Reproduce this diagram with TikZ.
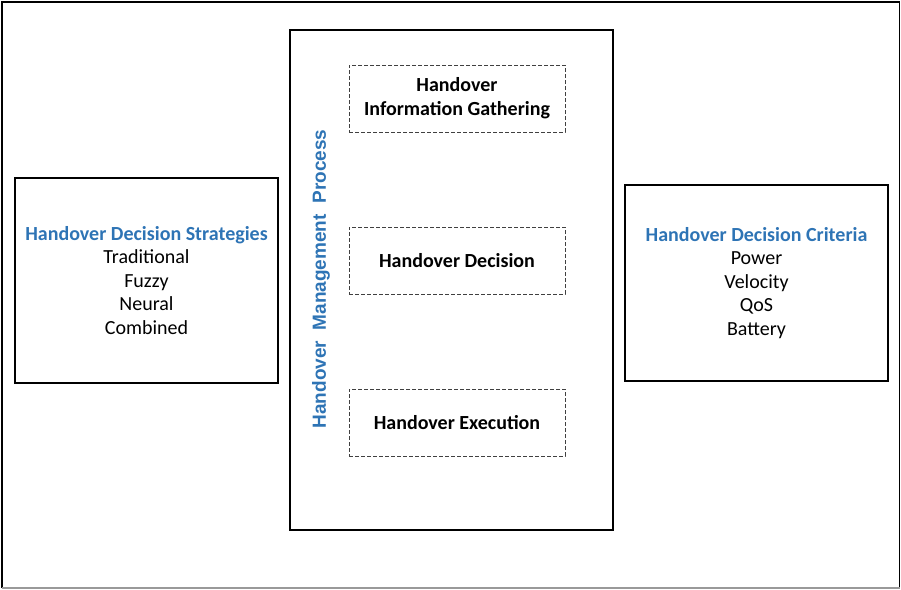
\documentclass[tikz,border=0pt]{standalone}
\usepackage{fontspec}
\setmainfont{Carlito}
\newfontfamily\sidefont{Liberation Sans}
\definecolor{titleblue}{RGB}{46,116,181}

\begin{document}
\begin{tikzpicture}[x=1pt,y=-1pt,
    bigbox/.style={draw,line width=2.5pt,inner sep=0pt},
    stagebox/.style={draw=black!75,line width=0.9pt,dash pattern=on 4pt off 2pt,
      minimum width=216pt,minimum height=67pt,align=center,
      font=\fontsize{20}{24}\selectfont\bfseries},
    listtext/.style={align=center,font=\fontsize{20}{23.5}\selectfont}]
    \useasboundingbox (0,0) rectangle (901,589);
    % outer frame
    \draw[line width=2pt] (2,588) -- (2,1.5) -- (900,1.5);
    \draw[line width=1.5pt] (899.5,1.5) -- (899.5,588);
    \draw[line width=1.2pt,black!40] (2,588) -- (900,588);
    % side boxes
    \node[bigbox,minimum width=263pt,minimum height=205pt,listtext] (strat) at (146.5,280.5)
      {{\bfseries\color{titleblue}Handover Decision Strategies}\\Traditional\\Fuzzy\\Neural\\Combined};
    \node[bigbox,minimum width=263pt,minimum height=196pt,listtext] (crit) at (756.5,283)
      {{\bfseries\color{titleblue}Handover Decision Criteria}\\Power\\Velocity\\QoS\\Battery};
    % process box and its stages
    \node[bigbox,minimum width=323pt,minimum height=500pt] (proc) at (451.5,280) {};
    \node[rotate=90,text=titleblue,font=\sidefont\fontsize{19}{19}\selectfont\bfseries] (proctitle)
      at (321,279) {Handover\hspace{0.55em}Management\hspace{0.55em}Process};
    \node[stagebox] (gather) at (457,98.5) {Handover\\Information Gathering};
    \node[stagebox] (decide) at (457,260.5) {Handover Decision};
    \node[stagebox] (exec) at (457,422.5) {Handover Execution};
\end{tikzpicture}
\end{document}
